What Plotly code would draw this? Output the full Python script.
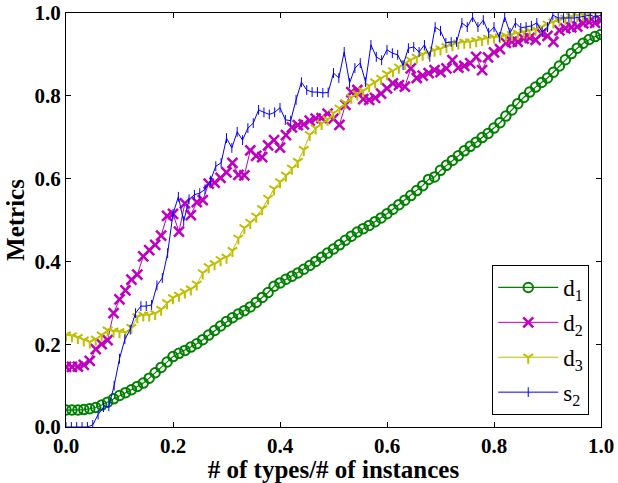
import plotly.graph_objects as go

# Sampling grids (ratio of # of types to # of instances)
x_d = [i / 90 for i in range(91)]
x_s2 = [i / 100 for i in range(101)]

d1 = [0.041, 0.041, 0.041, 0.042, 0.044, 0.047, 0.053, 0.060, 0.068, 0.076,
      0.083, 0.090, 0.098, 0.106, 0.118, 0.131, 0.144, 0.157, 0.170, 0.178,
      0.185, 0.193, 0.201, 0.211, 0.222, 0.233, 0.244, 0.255, 0.264, 0.273,
      0.281, 0.290, 0.301, 0.313, 0.325, 0.340, 0.348, 0.357, 0.364, 0.372,
      0.381, 0.390, 0.400, 0.410, 0.420, 0.430, 0.440, 0.451, 0.461, 0.471,
      0.479, 0.487, 0.496, 0.505, 0.515, 0.526, 0.537, 0.548, 0.559, 0.571,
      0.583, 0.598, 0.604, 0.620, 0.632, 0.644, 0.655, 0.667, 0.678, 0.688,
      0.699, 0.709, 0.722, 0.735, 0.751, 0.766, 0.781, 0.796, 0.809, 0.821,
      0.832, 0.843, 0.857, 0.872, 0.887, 0.902, 0.915, 0.927, 0.936, 0.943,
      0.948]

d2 = [0.145, 0.145, 0.146, 0.150, 0.160, 0.188, 0.200, 0.210, 0.275, 0.308,
      0.330, 0.356, 0.368, 0.412, 0.427, 0.440, 0.462, 0.510, 0.515, 0.472,
      0.540, 0.512, 0.543, 0.548, 0.588, 0.590, 0.602, 0.615, 0.638, 0.609,
      0.608, 0.668, 0.655, 0.652, 0.680, 0.693, 0.675, 0.705, 0.724, 0.729,
      0.731, 0.740, 0.745, 0.746, 0.757, 0.745, 0.730, 0.778, 0.809, 0.814,
      0.792, 0.790, 0.795, 0.805, 0.818, 0.830, 0.826, 0.822, 0.866, 0.843,
      0.849, 0.855, 0.862, 0.857, 0.866, 0.886, 0.868, 0.872, 0.879, 0.894,
      0.862, 0.893, 0.905, 0.913, 0.928, 0.931, 0.930, 0.938, 0.940, 0.935,
      0.950, 0.945, 0.930, 0.958, 0.963, 0.965, 0.967, 0.975, 0.978, 0.976,
      0.982]

d3 = [0.222, 0.220, 0.216, 0.210, 0.205, 0.212, 0.222, 0.234, 0.231, 0.230,
      0.228, 0.240, 0.266, 0.270, 0.270, 0.274, 0.284, 0.300, 0.312, 0.318,
      0.326, 0.333, 0.345, 0.372, 0.387, 0.394, 0.404, 0.410, 0.426, 0.456,
      0.481, 0.494, 0.509, 0.527, 0.552, 0.575, 0.592, 0.608, 0.625, 0.641,
      0.670, 0.706, 0.722, 0.733, 0.743, 0.758, 0.770, 0.783, 0.796, 0.804,
      0.812, 0.824, 0.833, 0.842, 0.853, 0.860, 0.869, 0.878, 0.886, 0.893,
      0.900, 0.904, 0.910, 0.913, 0.919, 0.923, 0.927, 0.929, 0.930, 0.933,
      0.936, 0.939, 0.941, 0.942, 0.945, 0.948, 0.951, 0.954, 0.957, 0.960,
      0.966, 0.973, 0.978, 0.982, 0.987, 0.991, 0.994, 0.996, 0.998, 0.999,
      1.000]

s2 = [0.000, 0.000, 0.000, 0.000, 0.000, 0.005, 0.030, 0.048, 0.050, 0.100,
      0.165, 0.212, 0.235, 0.275, 0.292, 0.292, 0.295, 0.342, 0.360, 0.420,
      0.515, 0.556, 0.497, 0.550, 0.561, 0.565, 0.574, 0.595, 0.630, 0.638,
      0.698, 0.674, 0.713, 0.693, 0.722, 0.734, 0.766, 0.760, 0.755, 0.760,
      0.771, 0.742, 0.740, 0.790, 0.833, 0.814, 0.809, 0.809, 0.807, 0.808,
      0.855, 0.843, 0.906, 0.831, 0.867, 0.879, 0.833, 0.923, 0.894, 0.886,
      0.911, 0.903, 0.899, 0.874, 0.915, 0.918, 0.906, 0.923, 0.894, 0.966,
      0.957, 0.928, 0.930, 0.930, 0.976, 0.966, 0.990, 0.966, 0.983, 0.952,
      0.966, 0.942, 0.990, 0.952, 0.976, 0.964, 0.966, 0.969, 0.976, 0.954,
      0.966, 0.995, 0.988, 0.988, 0.988, 0.988, 0.990, 0.993, 0.995, 0.990,
      0.995]

GREEN = "#008000"
MAGENTA = "#bf00bf"
YELLOW = "#bfbf00"
BLUE = "#0000ff"
SERIF = "Liberation Serif"

fig = go.Figure()
fig.add_trace(go.Scatter(
    x=x_d, y=d1, name="d<sub>1</sub>", mode="lines+markers",
    line=dict(color=GREEN, width=1.2),
    marker=dict(symbol="circle-open", size=9.5, color=GREEN,
                line=dict(color=GREEN, width=2)),
    legendgroup="d1"))
fig.add_trace(go.Scatter(
    x=x_d, y=d2, name="d<sub>2</sub>", mode="lines+markers",
    line=dict(color=MAGENTA, width=1),
    marker=dict(symbol="x-thin", size=10, color=MAGENTA,
                line=dict(color=MAGENTA, width=2.5)),
    legendgroup="d2"))
fig.add_trace(go.Scatter(
    x=x_d, y=d3, name="d<sub>3</sub>", mode="lines+markers",
    line=dict(color=YELLOW, width=1),
    marker=dict(symbol="y-down", size=8, color=YELLOW,
                line=dict(color=YELLOW, width=2)),
    legendgroup="d3"))
fig.add_trace(go.Scatter(
    x=x_s2, y=s2, name="s<sub>2</sub>", mode="lines+markers",
    line=dict(color=BLUE, width=1),
    marker=dict(symbol="line-ns", size=7, color=BLUE,
                line=dict(color=BLUE, width=1)),
    legendgroup="s2"))

axis_common = dict(
    range=[0, 1], dtick=0.2, tick0=0, tickformat=".1f",
    ticks="inside", ticklen=5, tickwidth=1, tickcolor="black",
    showline=True, linecolor="black", linewidth=1, mirror="ticks",
    showgrid=False, zeroline=False, automargin=False,
    tickfont=dict(family=SERIF, size=21, color="black", weight="bold"),
)

fig.update_xaxes(**axis_common,
                 title=dict(text="# of types/# of instances", standoff=4,
                            font=dict(family=SERIF, size=25, color="black",
                                      weight="bold")))
fig.update_yaxes(**axis_common,
                 title=dict(text="Metrics", standoff=2,
                            font=dict(family=SERIF, size=25, color="black",
                                      weight="bold")))

fig.update_layout(
    width=618, height=483,
    margin=dict(l=66, r=17, t=13, b=56),
    paper_bgcolor="white", plot_bgcolor="white",
    legend=dict(x=0.978, xanchor="right", y=0.029, yanchor="bottom",
                bgcolor="white", bordercolor="black", borderwidth=1,
                font=dict(family=SERIF, size=23, color="black"),
                tracegroupgap=2, itemwidth=60),
)

fig.write_html("out.html")
